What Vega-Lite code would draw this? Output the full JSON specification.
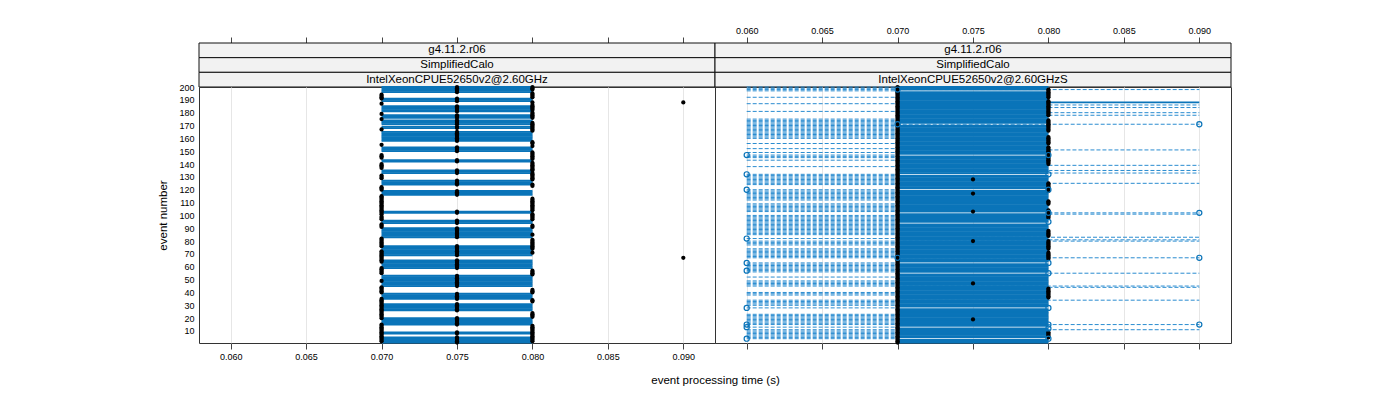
{
"$schema":"https://vega.github.io/schema/vega-lite/v6.json",
"padding":{"left":157,"top":26,"right":5,"bottom":5},
"background":"white",
"config":{"font":"Liberation Sans","view":{"stroke":null},
"axis":{"labelFont":"Liberation Sans","titleFont":"Liberation Sans","labelFontSize":9,"labelColor":"black","titleColor":"black","titleFontWeight":"normal","titleFontSize":11.5,"tickColor":"#444","domain":false,"gridColor":"#e6e6e6"}},
"columns":2,"spacing":0,"bounds":"flush",
"datasets":{
"strips":[
{"panel":"A","lvl":1,"label":"g4.11.2.r06"},{"panel":"A","lvl":2,"label":"SimplifiedCalo"},{"panel":"A","lvl":3,"label":"IntelXeonCPUE52650v2@2.60GHz"},
{"panel":"B","lvl":1,"label":"g4.11.2.r06"},{"panel":"B","lvl":2,"label":"SimplifiedCalo"},{"panel":"B","lvl":3,"label":"IntelXeonCPUE52650v2@2.60GHzS"}],
"ev":[
{"p":"A","e":1,"s0":0.07,"s1":0.08,"fa":0.075},
{"p":"A","e":2,"s0":0.07,"s1":0.08,"fa":0.075,"fb":0.07,"fc":0.08},
{"p":"A","e":3,"s0":0.07,"s1":0.08,"fa":0.075,"fb":0.07,"fc":0.08},
{"p":"A","e":4,"s0":0.07,"s1":0.08,"fa":0.075,"fb":0.07,"fc":0.08},
{"p":"A","e":5,"s0":0.07,"s1":0.08,"fa":0.075,"fb":0.07,"fc":0.08},
{"p":"A","e":6,"fb":0.07,"fc":0.08},
{"p":"A","e":7,"fb":0.07,"fc":0.08},
{"p":"A","e":8,"s0":0.07,"s1":0.08,"fa":0.075,"fb":0.07,"fc":0.08},
{"p":"A","e":9,"s0":0.07,"s1":0.08,"fa":0.075,"fb":0.07,"fc":0.08},
{"p":"A","e":10,"fb":0.07,"fc":0.08},
{"p":"A","e":11,"fb":0.07,"fc":0.08},
{"p":"A","e":12,"fb":0.07,"fc":0.08},
{"p":"A","e":13,"fb":0.07,"fc":0.08},
{"p":"A","e":14,"fb":0.07,"fc":0.08},
{"p":"A","e":15,"s0":0.07,"s1":0.08,"fa":0.075,"fb":0.07},
{"p":"A","e":16,"s0":0.07,"s1":0.08,"fa":0.075},
{"p":"A","e":17,"s0":0.07,"s1":0.08,"fa":0.075},
{"p":"A","e":18,"s0":0.07,"s1":0.08,"fa":0.075},
{"p":"A","e":19,"s0":0.07,"s1":0.08,"fa":0.075},
{"p":"A","e":20,"s0":0.07,"s1":0.08,"fa":0.075,"fb":0.07},
{"p":"A","e":21,"fb":0.07,"fc":0.08},
{"p":"A","e":22,"fb":0.07,"fc":0.08},
{"p":"A","e":23,"fb":0.07,"fc":0.08},
{"p":"A","e":24,"fb":0.07,"fc":0.08},
{"p":"A","e":25,"fb":0.07},
{"p":"A","e":26,"s0":0.07,"s1":0.08,"fa":0.075,"fb":0.07},
{"p":"A","e":27,"s0":0.07,"s1":0.08,"fa":0.075,"fb":0.07},
{"p":"A","e":28,"s0":0.07,"s1":0.08,"fa":0.075,"fb":0.07},
{"p":"A","e":29,"s0":0.07,"s1":0.08,"fa":0.075,"fb":0.07},
{"p":"A","e":30,"s0":0.07,"s1":0.08,"fa":0.075,"fb":0.07},
{"p":"A","e":31,"s0":0.07,"s1":0.08,"fa":0.075,"fb":0.07},
{"p":"A","e":32,"fb":0.07},
{"p":"A","e":33,"fb":0.07,"fc":0.08},
{"p":"A","e":34,"fb":0.07,"fc":0.08},
{"p":"A","e":35,"s0":0.07,"s1":0.08,"fa":0.075,"fb":0.07},
{"p":"A","e":36,"s0":0.07,"s1":0.08,"fa":0.075},
{"p":"A","e":37,"s0":0.07,"s1":0.08,"fa":0.075},
{"p":"A","e":38,"s0":0.07,"s1":0.08,"fa":0.075},
{"p":"A","e":39,"s0":0.07,"s1":0.08,"fa":0.075},
{"p":"A","e":40,"fb":0.07,"fc":0.08},
{"p":"A","e":41,"fb":0.07,"fc":0.08},
{"p":"A","e":42,"fb":0.07,"fc":0.08},
{"p":"A","e":43,"fb":0.07},
{"p":"A","e":44,"fb":0.07},
{"p":"A","e":45,"s0":0.07,"s1":0.08,"fa":0.075},
{"p":"A","e":46,"s0":0.07,"s1":0.08,"fa":0.075},
{"p":"A","e":47,"s0":0.07,"s1":0.08,"fa":0.075},
{"p":"A","e":48,"s0":0.07,"s1":0.08,"fa":0.075},
{"p":"A","e":49,"s0":0.07,"s1":0.08,"fa":0.075,"fb":0.07},
{"p":"A","e":50,"s0":0.07,"s1":0.08,"fa":0.075},
{"p":"A","e":51,"s0":0.07,"s1":0.08,"fa":0.075},
{"p":"A","e":52,"s0":0.07,"s1":0.08,"fa":0.075},
{"p":"A","e":53,"s0":0.07,"s1":0.08,"fa":0.075},
{"p":"A","e":54,"fc":0.08},
{"p":"A","e":55,"fb":0.07,"fc":0.08},
{"p":"A","e":56,"fb":0.07,"fc":0.08},
{"p":"A","e":57,"fb":0.07,"fc":0.08},
{"p":"A","e":58,"fb":0.07},
{"p":"A","e":59,"s0":0.07,"s1":0.08,"fa":0.075,"fb":0.07},
{"p":"A","e":60,"s0":0.07,"s1":0.08,"fa":0.075},
{"p":"A","e":61,"s0":0.07,"s1":0.08,"fa":0.075},
{"p":"A","e":62,"s0":0.07,"s1":0.08,"fa":0.075},
{"p":"A","e":63,"s0":0.07,"s1":0.08,"fa":0.075},
{"p":"A","e":64,"s0":0.07,"s1":0.08,"fa":0.075,"fb":0.07},
{"p":"A","e":65,"s0":0.07,"s1":0.08,"fa":0.075,"fb":0.07},
{"p":"A","e":66,"fb":0.07},
{"p":"A","e":67,"fb":0.07,"fd":0.09},
{"p":"A","e":68,"fb":0.07},
{"p":"A","e":69,"s0":0.07,"s1":0.08,"fa":0.075,"fb":0.07},
{"p":"A","e":70,"s0":0.07,"s1":0.08,"fa":0.075,"fb":0.07},
{"p":"A","e":71,"s0":0.07,"s1":0.08,"fa":0.075,"fb":0.07,"fc":0.08},
{"p":"A","e":72,"s0":0.07,"s1":0.08,"fa":0.075,"fb":0.07},
{"p":"A","e":73,"s0":0.07,"s1":0.08,"fa":0.075},
{"p":"A","e":74,"s0":0.07,"s1":0.08,"fa":0.075,"fc":0.08},
{"p":"A","e":75,"s0":0.07,"s1":0.08,"fa":0.075,"fc":0.08},
{"p":"A","e":76,"s0":0.07,"s1":0.08,"fa":0.075,"fb":0.07,"fc":0.08},
{"p":"A","e":77,"fb":0.07,"fc":0.08},
{"p":"A","e":78,"fb":0.07,"fc":0.08},
{"p":"A","e":79,"fb":0.07,"fc":0.08},
{"p":"A","e":80,"fb":0.07,"fc":0.08},
{"p":"A","e":81,"fb":0.07,"fc":0.08},
{"p":"A","e":82,"fb":0.07},
{"p":"A","e":83,"s0":0.07,"s1":0.08,"fa":0.075},
{"p":"A","e":84,"s0":0.07,"s1":0.08,"fa":0.075},
{"p":"A","e":85,"s0":0.07,"s1":0.08,"fa":0.075,"fc":0.08},
{"p":"A","e":86,"s0":0.07,"s1":0.08,"fa":0.075},
{"p":"A","e":87,"s0":0.07,"s1":0.08,"fa":0.075},
{"p":"A","e":88,"s0":0.07,"s1":0.08,"fa":0.075},
{"p":"A","e":89,"s0":0.07,"s1":0.08,"fa":0.075},
{"p":"A","e":90,"s0":0.07,"s1":0.08,"fa":0.075},
{"p":"A","e":91,"fb":0.07,"fc":0.08},
{"p":"A","e":92,"fb":0.07,"fc":0.08},
{"p":"A","e":93,"fb":0.07},
{"p":"A","e":94,"s0":0.07,"s1":0.08,"fa":0.075},
{"p":"A","e":95,"s0":0.07,"s1":0.08,"fa":0.075},
{"p":"A","e":96,"s0":0.07,"s1":0.08,"fa":0.075},
{"p":"A","e":97,"fb":0.07,"fc":0.08},
{"p":"A","e":98,"fb":0.07,"fc":0.08},
{"p":"A","e":99,"fb":0.07,"fc":0.08},
{"p":"A","e":100,"fc":0.08},
{"p":"A","e":101,"fb":0.07,"fc":0.08},
{"p":"A","e":102,"s0":0.07,"s1":0.08,"fa":0.075,"fb":0.07},
{"p":"A","e":103,"s0":0.07,"s1":0.08,"fa":0.075,"fb":0.07},
{"p":"A","e":104,"fb":0.07,"fc":0.08},
{"p":"A","e":105,"fb":0.07,"fc":0.08},
{"p":"A","e":106,"fb":0.07,"fc":0.08},
{"p":"A","e":107,"fb":0.07,"fc":0.08},
{"p":"A","e":108,"fb":0.07,"fc":0.08},
{"p":"A","e":109,"fb":0.07,"fc":0.08},
{"p":"A","e":110,"fb":0.07,"fc":0.08},
{"p":"A","e":111,"fb":0.07,"fc":0.08},
{"p":"A","e":112,"fb":0.07,"fc":0.08},
{"p":"A","e":113,"fb":0.07,"fc":0.08},
{"p":"A","e":114,"fb":0.07},
{"p":"A","e":115,"fb":0.07},
{"p":"A","e":116,"s0":0.07,"s1":0.08,"fa":0.075},
{"p":"A","e":117,"s0":0.07,"s1":0.08,"fa":0.075},
{"p":"A","e":118,"s0":0.07,"s1":0.08,"fa":0.075},
{"p":"A","e":119,"s0":0.07,"s1":0.08,"fa":0.075},
{"p":"A","e":120,"fb":0.07},
{"p":"A","e":121,"fb":0.07},
{"p":"A","e":122,"fb":0.07},
{"p":"A","e":123,"fc":0.08},
{"p":"A","e":124,"s0":0.07,"s1":0.08,"fa":0.075,"fc":0.08},
{"p":"A","e":125,"s0":0.07,"s1":0.08,"fa":0.075},
{"p":"A","e":126,"s0":0.07,"s1":0.08,"fa":0.075},
{"p":"A","e":127,"s0":0.07,"s1":0.08,"fa":0.075},
{"p":"A","e":128,"fc":0.08},
{"p":"A","e":129,"fb":0.07,"fc":0.08},
{"p":"A","e":130,"fb":0.07,"fc":0.08},
{"p":"A","e":131,"fb":0.07,"fc":0.08},
{"p":"A","e":132,"fc":0.08},
{"p":"A","e":133,"s0":0.07,"s1":0.08,"fa":0.075,"fc":0.08},
{"p":"A","e":134,"s0":0.07,"s1":0.08,"fa":0.075},
{"p":"A","e":135,"s0":0.07,"s1":0.08,"fa":0.075,"fc":0.08},
{"p":"A","e":136,"fc":0.08},
{"p":"A","e":137,"fb":0.07,"fc":0.08},
{"p":"A","e":138,"fb":0.07,"fc":0.08},
{"p":"A","e":139,"fb":0.07,"fc":0.08},
{"p":"A","e":140,"fb":0.07,"fc":0.08},
{"p":"A","e":141,"fc":0.08},
{"p":"A","e":142,"s0":0.07,"s1":0.08,"fa":0.075},
{"p":"A","e":143,"s0":0.07,"s1":0.08,"fa":0.075},
{"p":"A","e":144,"fc":0.08},
{"p":"A","e":145,"fb":0.07,"fc":0.08},
{"p":"A","e":146,"fb":0.07,"fc":0.08},
{"p":"A","e":147,"fb":0.07,"fc":0.08},
{"p":"A","e":148,"fc":0.08},
{"p":"A","e":149,"fc":0.08},
{"p":"A","e":150,"s0":0.07,"s1":0.08,"fa":0.075},
{"p":"A","e":151,"s0":0.07,"s1":0.08,"fa":0.075},
{"p":"A","e":152,"s0":0.07,"s1":0.08,"fa":0.075},
{"p":"A","e":153,"s0":0.07,"s1":0.08,"fa":0.075},
{"p":"A","e":154,"fc":0.08},
{"p":"A","e":155,"fb":0.07},
{"p":"A","e":156,"fc":0.08},
{"p":"A","e":157,"fc":0.08},
{"p":"A","e":158,"s0":0.07,"s1":0.08,"fa":0.075},
{"p":"A","e":159,"s0":0.07,"s1":0.08,"fa":0.075},
{"p":"A","e":160,"s0":0.07,"s1":0.08,"fa":0.075},
{"p":"A","e":161,"s0":0.07,"s1":0.08,"fa":0.075},
{"p":"A","e":162,"s0":0.07,"s1":0.08,"fa":0.075},
{"p":"A","e":163,"s0":0.07,"s1":0.08,"fa":0.075},
{"p":"A","e":164,"s0":0.07,"s1":0.08,"fa":0.075},
{"p":"A","e":165,"s0":0.07,"s1":0.08,"fa":0.075},
{"p":"A","e":166,"fc":0.08},
{"p":"A","e":167,"fb":0.07,"fc":0.08},
{"p":"A","e":168,"s0":0.07,"s1":0.08,"fa":0.075,"fc":0.08},
{"p":"A","e":169,"s0":0.07,"s1":0.08,"fa":0.075,"fc":0.08},
{"p":"A","e":170,"fc":0.08},
{"p":"A","e":171,"s0":0.07,"s1":0.08,"fa":0.075,"fc":0.08},
{"p":"A","e":172,"s0":0.07,"s1":0.08,"fa":0.075,"fc":0.08},
{"p":"A","e":173,"s0":0.07,"s1":0.08,"fa":0.075},
{"p":"A","e":174,"s0":0.07,"s1":0.08,"fa":0.075},
{"p":"A","e":175,"fb":0.07},
{"p":"A","e":176,"s0":0.07,"s1":0.08,"fa":0.075,"fc":0.08},
{"p":"A","e":177,"s0":0.07,"s1":0.08,"fa":0.075,"fc":0.08},
{"p":"A","e":178,"s0":0.07,"s1":0.08,"fa":0.075,"fc":0.08},
{"p":"A","e":179,"fb":0.07,"fc":0.08},
{"p":"A","e":180,"fc":0.08},
{"p":"A","e":181,"s0":0.07,"s1":0.08,"fa":0.075},
{"p":"A","e":182,"s0":0.07,"s1":0.08,"fa":0.075,"fc":0.08},
{"p":"A","e":183,"s0":0.07,"s1":0.08,"fa":0.075,"fc":0.08},
{"p":"A","e":184,"s0":0.07,"s1":0.08,"fa":0.075,"fc":0.08},
{"p":"A","e":185,"s0":0.07,"s1":0.08,"fa":0.075,"fc":0.08},
{"p":"A","e":186,"fc":0.08},
{"p":"A","e":187,"fb":0.07},
{"p":"A","e":188,"fc":0.08,"fd":0.09},
{"p":"A","e":189,"s0":0.07,"s1":0.08,"fa":0.075},
{"p":"A","e":190,"s0":0.07,"s1":0.08,"fa":0.075},
{"p":"A","e":191,"s0":0.07,"s1":0.08,"fa":0.075,"fb":0.07},
{"p":"A","e":192,"fb":0.07,"fc":0.08},
{"p":"A","e":193,"fb":0.07,"fc":0.08},
{"p":"A","e":194,"fb":0.07,"fc":0.08},
{"p":"A","e":195,"fc":0.08},
{"p":"A","e":196,"s0":0.07,"s1":0.08,"fa":0.075},
{"p":"A","e":197,"s0":0.07,"s1":0.08,"fa":0.075},
{"p":"A","e":198,"s0":0.07,"s1":0.08,"fa":0.075,"fc":0.08},
{"p":"A","e":199,"s0":0.07,"s1":0.08,"fa":0.075,"fc":0.08},
{"p":"A","e":200,"s0":0.07,"s1":0.08,"fa":0.075,"fc":0.08},
{"p":"B","e":1,"s0":0.07,"s1":0.08,"fa":0.07},
{"p":"B","e":2,"s0":0.07,"s1":0.08,"fa":0.07},
{"p":"B","e":3,"s0":0.07,"s1":0.08,"fa":0.07},
{"p":"B","e":4,"d0":0.06,"d1":0.07,"fa":0.07,"oa":0.06,"ob":0.08},
{"p":"B","e":5,"s0":0.07,"s1":0.08,"d0":0.06,"d1":0.07,"fa":0.07,"fc":0.08},
{"p":"B","e":6,"s0":0.07,"s1":0.08,"d0":0.06,"d1":0.07,"fa":0.07,"fc":0.08},
{"p":"B","e":7,"s0":0.07,"s1":0.08,"d0":0.06,"d1":0.07,"fa":0.07,"fc":0.08},
{"p":"B","e":8,"s0":0.07,"s1":0.08,"d0":0.06,"d1":0.07,"fa":0.07,"fc":0.08},
{"p":"B","e":9,"s0":0.07,"s1":0.08,"d0":0.06,"d1":0.07,"fa":0.07,"fc":0.08},
{"p":"B","e":10,"s0":0.07,"s1":0.08,"d0":0.06,"d1":0.07,"fa":0.07},
{"p":"B","e":11,"s0":0.07,"s1":0.08,"d0":0.06,"d1":0.09,"fa":0.07},
{"p":"B","e":12,"s0":0.07,"s1":0.08,"fa":0.07,"ob":0.08},
{"p":"B","e":13,"d0":0.06,"d1":0.07,"fa":0.07,"oa":0.06},
{"p":"B","e":14,"s0":0.07,"s1":0.08,"fa":0.07},
{"p":"B","e":15,"s0":0.07,"s1":0.08,"d0":0.06,"d1":0.09,"fa":0.07,"oa":0.06,"ob":0.08,"oc":0.09},
{"p":"B","e":16,"s0":0.07,"s1":0.08,"d0":0.06,"d1":0.07,"fa":0.07},
{"p":"B","e":17,"s0":0.07,"s1":0.08,"d0":0.06,"d1":0.07,"fa":0.07},
{"p":"B","e":18,"s0":0.07,"s1":0.08,"d0":0.06,"d1":0.07,"fa":0.07},
{"p":"B","e":19,"s0":0.07,"s1":0.08,"d0":0.06,"d1":0.07,"fa":0.07,"fb":0.075},
{"p":"B","e":20,"s0":0.07,"s1":0.08,"d0":0.06,"d1":0.07,"fa":0.07},
{"p":"B","e":21,"s0":0.07,"s1":0.08,"d0":0.06,"d1":0.07,"fa":0.07},
{"p":"B","e":22,"s0":0.07,"s1":0.08,"d0":0.06,"d1":0.07,"fa":0.07},
{"p":"B","e":23,"s0":0.07,"s1":0.08,"d0":0.06,"d1":0.07,"fa":0.07},
{"p":"B","e":24,"s0":0.07,"s1":0.08,"fa":0.07},
{"p":"B","e":25,"s0":0.07,"s1":0.08,"fa":0.07},
{"p":"B","e":26,"s0":0.07,"s1":0.08,"fa":0.07},
{"p":"B","e":27,"s0":0.07,"s1":0.08,"fa":0.07},
{"p":"B","e":28,"d0":0.06,"d1":0.07,"fa":0.07,"oa":0.06,"ob":0.08},
{"p":"B","e":29,"s0":0.07,"s1":0.08,"fa":0.07},
{"p":"B","e":30,"s0":0.07,"s1":0.08,"d0":0.06,"d1":0.07,"fa":0.07},
{"p":"B","e":31,"s0":0.07,"s1":0.08,"d0":0.06,"d1":0.07,"fa":0.07},
{"p":"B","e":32,"s0":0.07,"s1":0.08,"d0":0.06,"d1":0.07,"fa":0.07},
{"p":"B","e":33,"s0":0.07,"s1":0.08,"d0":0.06,"d1":0.07,"fa":0.07},
{"p":"B","e":34,"s0":0.07,"s1":0.08,"d0":0.06,"d1":0.09,"fa":0.07},
{"p":"B","e":35,"s0":0.07,"s1":0.08,"fa":0.07},
{"p":"B","e":36,"s0":0.07,"s1":0.08,"fa":0.07,"fc":0.08},
{"p":"B","e":37,"s0":0.07,"s1":0.08,"fa":0.07,"fc":0.08},
{"p":"B","e":38,"s0":0.07,"s1":0.08,"d0":0.06,"d1":0.07,"fa":0.07,"fc":0.08},
{"p":"B","e":39,"s0":0.07,"s1":0.08,"d0":0.06,"d1":0.07,"fa":0.07,"fc":0.08},
{"p":"B","e":40,"s0":0.07,"s1":0.08,"d0":0.06,"d1":0.07,"fa":0.07,"fc":0.08},
{"p":"B","e":41,"s0":0.07,"s1":0.08,"fa":0.07,"fc":0.08},
{"p":"B","e":42,"s0":0.07,"s1":0.08,"fa":0.07,"fc":0.08},
{"p":"B","e":43,"s0":0.07,"s1":0.08,"fa":0.07,"fc":0.08},
{"p":"B","e":44,"s0":0.07,"s1":0.08,"d0":0.08,"d1":0.09,"fa":0.07},
{"p":"B","e":45,"s0":0.07,"s1":0.08,"d0":0.06,"d1":0.09,"fa":0.07},
{"p":"B","e":46,"s0":0.07,"s1":0.08,"d0":0.06,"d1":0.07,"fa":0.07},
{"p":"B","e":47,"s0":0.07,"s1":0.08,"d0":0.06,"d1":0.07,"fa":0.07,"fb":0.075},
{"p":"B","e":48,"s0":0.07,"s1":0.08,"d0":0.06,"d1":0.07,"fa":0.07},
{"p":"B","e":49,"s0":0.07,"s1":0.08,"d0":0.06,"d1":0.07,"fa":0.07},
{"p":"B","e":50,"s0":0.07,"s1":0.08,"fa":0.07},
{"p":"B","e":51,"s0":0.07,"s1":0.08,"fa":0.07},
{"p":"B","e":52,"s0":0.07,"s1":0.08,"d0":0.06,"d1":0.07,"fa":0.07},
{"p":"B","e":53,"s0":0.07,"s1":0.08,"fa":0.07},
{"p":"B","e":54,"s0":0.07,"s1":0.08,"fa":0.07},
{"p":"B","e":55,"d0":0.08,"d1":0.09,"fa":0.07,"ob":0.08},
{"p":"B","e":56,"s0":0.07,"s1":0.08,"d0":0.06,"d1":0.07,"fa":0.07},
{"p":"B","e":57,"s0":0.07,"s1":0.08,"d0":0.06,"d1":0.07,"fa":0.07,"oa":0.06},
{"p":"B","e":58,"s0":0.07,"s1":0.08,"d0":0.06,"d1":0.07,"fa":0.07},
{"p":"B","e":59,"s0":0.07,"s1":0.08,"d0":0.06,"d1":0.07,"fa":0.07},
{"p":"B","e":60,"s0":0.07,"s1":0.08,"d0":0.06,"d1":0.07,"fa":0.07},
{"p":"B","e":61,"s0":0.07,"s1":0.08,"d0":0.06,"d1":0.07,"fa":0.07},
{"p":"B","e":62,"s0":0.07,"s1":0.08,"d0":0.06,"d1":0.07,"fa":0.07},
{"p":"B","e":63,"d0":0.06,"d1":0.07,"fa":0.07,"oa":0.06,"ob":0.08},
{"p":"B","e":64,"s0":0.07,"s1":0.08,"fa":0.07},
{"p":"B","e":65,"s0":0.07,"s1":0.08,"fa":0.07},
{"p":"B","e":66,"s0":0.07,"s1":0.08,"fa":0.07,"fc":0.08},
{"p":"B","e":67,"s0":0.07,"s1":0.08,"d0":0.06,"d1":0.09,"fa":0.07,"fc":0.08,"oa":0.07,"ob":0.09},
{"p":"B","e":68,"s0":0.07,"s1":0.08,"d0":0.06,"d1":0.07,"fa":0.07,"fc":0.08},
{"p":"B","e":69,"s0":0.07,"s1":0.08,"d0":0.06,"d1":0.07,"fa":0.07,"fc":0.08},
{"p":"B","e":70,"s0":0.07,"s1":0.08,"d0":0.06,"d1":0.07,"fa":0.07,"fc":0.08},
{"p":"B","e":71,"s0":0.07,"s1":0.08,"d0":0.06,"d1":0.07,"fa":0.07,"fc":0.08},
{"p":"B","e":72,"s0":0.07,"s1":0.08,"d0":0.06,"d1":0.07,"fa":0.07},
{"p":"B","e":73,"s0":0.07,"s1":0.08,"d0":0.06,"d1":0.07,"fa":0.07},
{"p":"B","e":74,"s0":0.07,"s1":0.08,"d0":0.06,"d1":0.07,"fa":0.07,"fc":0.08},
{"p":"B","e":75,"s0":0.07,"s1":0.08,"fa":0.07,"fc":0.08},
{"p":"B","e":76,"s0":0.07,"s1":0.08,"fa":0.07,"fc":0.08},
{"p":"B","e":77,"s0":0.07,"s1":0.08,"d0":0.06,"d1":0.07,"fa":0.07,"fc":0.08},
{"p":"B","e":78,"s0":0.07,"s1":0.08,"d0":0.06,"d1":0.07,"fa":0.07,"fc":0.08},
{"p":"B","e":79,"s0":0.07,"s1":0.08,"d0":0.06,"d1":0.07,"fa":0.07,"fc":0.08},
{"p":"B","e":80,"s0":0.07,"s1":0.08,"d0":0.06,"d1":0.09,"fa":0.07,"fb":0.075,"fc":0.08},
{"p":"B","e":81,"s0":0.07,"s1":0.08,"d0":0.08,"d1":0.09,"fa":0.07},
{"p":"B","e":82,"s0":0.07,"s1":0.08,"d0":0.06,"d1":0.07,"fa":0.07,"oa":0.06},
{"p":"B","e":83,"s0":0.07,"s1":0.08,"d0":0.075,"d1":0.09,"fa":0.07},
{"p":"B","e":84,"s0":0.07,"s1":0.08,"fa":0.07,"fc":0.08},
{"p":"B","e":85,"s0":0.07,"s1":0.08,"d0":0.06,"d1":0.07,"fa":0.07,"fc":0.08},
{"p":"B","e":86,"s0":0.07,"s1":0.08,"d0":0.06,"d1":0.07,"fa":0.07,"fc":0.08},
{"p":"B","e":87,"s0":0.07,"s1":0.08,"d0":0.06,"d1":0.07,"fa":0.07,"fc":0.08},
{"p":"B","e":88,"s0":0.07,"s1":0.08,"d0":0.06,"d1":0.07,"fa":0.07,"fc":0.08},
{"p":"B","e":89,"s0":0.07,"s1":0.08,"d0":0.06,"d1":0.07,"fa":0.07},
{"p":"B","e":90,"s0":0.07,"s1":0.08,"d0":0.06,"d1":0.07,"fa":0.07},
{"p":"B","e":91,"s0":0.07,"s1":0.08,"d0":0.06,"d1":0.07,"fa":0.07},
{"p":"B","e":92,"s0":0.07,"s1":0.08,"d0":0.06,"d1":0.07,"fa":0.07},
{"p":"B","e":93,"s0":0.07,"s1":0.08,"d0":0.06,"d1":0.07,"fa":0.07},
{"p":"B","e":94,"d0":0.06,"d1":0.07,"fa":0.07},
{"p":"B","e":95,"s0":0.07,"s1":0.08,"d0":0.06,"d1":0.07,"fa":0.07,"ob":0.08},
{"p":"B","e":96,"s0":0.07,"s1":0.08,"d0":0.06,"d1":0.07,"fa":0.07},
{"p":"B","e":97,"s0":0.07,"s1":0.08,"d0":0.06,"d1":0.07,"fa":0.07},
{"p":"B","e":98,"s0":0.07,"s1":0.08,"d0":0.06,"d1":0.07,"fa":0.07,"fc":0.08},
{"p":"B","e":99,"s0":0.07,"s1":0.08,"d0":0.06,"d1":0.07,"fa":0.07,"fc":0.08},
{"p":"B","e":100,"s0":0.07,"s1":0.08,"d0":0.06,"d1":0.07,"fa":0.07,"fc":0.08},
{"p":"B","e":101,"s0":0.07,"s1":0.08,"d0":0.08,"d1":0.09,"fa":0.07,"fc":0.08},
{"p":"B","e":102,"d0":0.08,"d1":0.09,"fa":0.07,"fc":0.08,"ob":0.08,"oc":0.09},
{"p":"B","e":103,"s0":0.07,"s1":0.08,"d0":0.06,"d1":0.07,"fa":0.07,"fb":0.075,"fc":0.08},
{"p":"B","e":104,"s0":0.07,"s1":0.08,"d0":0.06,"d1":0.07,"fa":0.07,"fc":0.08},
{"p":"B","e":105,"s0":0.07,"s1":0.08,"d0":0.06,"d1":0.07,"fa":0.07},
{"p":"B","e":106,"s0":0.07,"s1":0.08,"d0":0.06,"d1":0.07,"fa":0.07},
{"p":"B","e":107,"s0":0.07,"s1":0.08,"d0":0.06,"d1":0.07,"fa":0.07},
{"p":"B","e":108,"s0":0.07,"s1":0.08,"d0":0.06,"d1":0.07,"fa":0.07},
{"p":"B","e":109,"s0":0.07,"s1":0.08,"d0":0.06,"d1":0.07,"fa":0.07,"fc":0.08},
{"p":"B","e":110,"s0":0.07,"s1":0.08,"fa":0.07,"fc":0.08},
{"p":"B","e":111,"s0":0.07,"s1":0.08,"fa":0.07,"fc":0.08},
{"p":"B","e":112,"s0":0.07,"s1":0.08,"d0":0.06,"d1":0.07,"fa":0.07},
{"p":"B","e":113,"s0":0.07,"s1":0.08,"d0":0.06,"d1":0.07,"fa":0.07},
{"p":"B","e":114,"s0":0.07,"s1":0.08,"d0":0.06,"d1":0.07,"fa":0.07},
{"p":"B","e":115,"s0":0.07,"s1":0.08,"d0":0.06,"d1":0.07,"fa":0.07},
{"p":"B","e":116,"s0":0.07,"s1":0.08,"d0":0.06,"d1":0.07,"fa":0.07},
{"p":"B","e":117,"s0":0.07,"s1":0.08,"d0":0.06,"d1":0.07,"fa":0.07,"fb":0.075},
{"p":"B","e":118,"s0":0.07,"s1":0.08,"d0":0.06,"d1":0.07,"fa":0.07},
{"p":"B","e":119,"s0":0.07,"s1":0.08,"d0":0.06,"d1":0.07,"fa":0.07,"fc":0.08},
{"p":"B","e":120,"d0":0.06,"d1":0.07,"fa":0.07,"fc":0.08,"oa":0.06,"ob":0.08},
{"p":"B","e":121,"s0":0.07,"s1":0.08,"fa":0.07,"fc":0.08},
{"p":"B","e":122,"s0":0.07,"s1":0.08,"fa":0.07,"fc":0.08},
{"p":"B","e":123,"s0":0.07,"s1":0.08,"fa":0.07,"fc":0.08},
{"p":"B","e":124,"s0":0.07,"s1":0.08,"d0":0.06,"d1":0.07,"fa":0.07,"fc":0.08},
{"p":"B","e":125,"s0":0.07,"s1":0.08,"d0":0.06,"d1":0.09,"fa":0.07,"fc":0.08},
{"p":"B","e":126,"s0":0.07,"s1":0.08,"d0":0.06,"d1":0.07,"fa":0.07},
{"p":"B","e":127,"s0":0.07,"s1":0.08,"d0":0.06,"d1":0.07,"fa":0.07},
{"p":"B","e":128,"s0":0.07,"s1":0.08,"d0":0.06,"d1":0.07,"fa":0.07,"fb":0.075},
{"p":"B","e":129,"s0":0.07,"s1":0.08,"d0":0.06,"d1":0.07,"fa":0.07},
{"p":"B","e":130,"s0":0.07,"s1":0.08,"d0":0.06,"d1":0.07,"fa":0.07},
{"p":"B","e":131,"s0":0.07,"s1":0.08,"d0":0.06,"d1":0.07,"fa":0.07},
{"p":"B","e":132,"d0":0.06,"d1":0.07,"fa":0.07,"oa":0.06,"ob":0.08},
{"p":"B","e":133,"s0":0.07,"s1":0.08,"d0":0.08,"d1":0.09,"fa":0.07},
{"p":"B","e":134,"s0":0.07,"s1":0.08,"fa":0.07},
{"p":"B","e":135,"s0":0.07,"s1":0.08,"d0":0.08,"d1":0.09,"fa":0.07},
{"p":"B","e":136,"s0":0.07,"s1":0.08,"fa":0.07},
{"p":"B","e":137,"s0":0.07,"s1":0.08,"fa":0.07},
{"p":"B","e":138,"s0":0.07,"s1":0.08,"d0":0.06,"d1":0.07,"fa":0.07},
{"p":"B","e":139,"s0":0.07,"s1":0.08,"d0":0.08,"d1":0.09,"fa":0.07},
{"p":"B","e":140,"s0":0.07,"s1":0.08,"fa":0.07,"fc":0.08},
{"p":"B","e":141,"s0":0.07,"s1":0.08,"fa":0.07,"fc":0.08},
{"p":"B","e":142,"s0":0.07,"s1":0.08,"fa":0.07,"fc":0.08},
{"p":"B","e":143,"s0":0.07,"s1":0.08,"d0":0.06,"d1":0.07,"fa":0.07,"fc":0.08},
{"p":"B","e":144,"s0":0.07,"s1":0.08,"fa":0.07,"fc":0.08},
{"p":"B","e":145,"s0":0.07,"s1":0.08,"d0":0.06,"d1":0.07,"fa":0.07,"fc":0.08},
{"p":"B","e":146,"s0":0.07,"s1":0.08,"d0":0.06,"d1":0.07,"fa":0.07,"fc":0.08},
{"p":"B","e":147,"d0":0.06,"d1":0.07,"fa":0.07,"fc":0.08,"oa":0.06,"ob":0.08},
{"p":"B","e":148,"s0":0.07,"s1":0.08,"fa":0.07,"fc":0.08},
{"p":"B","e":149,"s0":0.07,"s1":0.08,"d0":0.06,"d1":0.07,"fa":0.07,"fc":0.08},
{"p":"B","e":150,"s0":0.07,"s1":0.08,"fa":0.07,"fc":0.08},
{"p":"B","e":151,"s0":0.07,"s1":0.08,"d0":0.08,"d1":0.09,"fa":0.07,"fc":0.08},
{"p":"B","e":152,"s0":0.07,"s1":0.08,"d0":0.06,"d1":0.07,"fa":0.07,"fc":0.08},
{"p":"B","e":153,"s0":0.07,"s1":0.08,"fa":0.07,"fc":0.08},
{"p":"B","e":154,"s0":0.07,"s1":0.08,"fa":0.07},
{"p":"B","e":155,"s0":0.07,"s1":0.08,"fa":0.07},
{"p":"B","e":156,"s0":0.07,"s1":0.08,"d0":0.06,"d1":0.07,"fa":0.07,"fc":0.08},
{"p":"B","e":157,"s0":0.07,"s1":0.08,"fa":0.07,"fc":0.08},
{"p":"B","e":158,"s0":0.07,"s1":0.08,"fa":0.07,"fc":0.08},
{"p":"B","e":159,"s0":0.07,"s1":0.08,"fa":0.07,"fc":0.08},
{"p":"B","e":160,"s0":0.07,"s1":0.08,"d0":0.06,"d1":0.07,"fa":0.07,"fc":0.08},
{"p":"B","e":161,"s0":0.07,"s1":0.08,"d0":0.06,"d1":0.07,"fa":0.07,"fc":0.08},
{"p":"B","e":162,"s0":0.07,"s1":0.08,"d0":0.06,"d1":0.07,"fa":0.07},
{"p":"B","e":163,"s0":0.07,"s1":0.08,"d0":0.06,"d1":0.07,"fa":0.07},
{"p":"B","e":164,"s0":0.07,"s1":0.08,"d0":0.06,"d1":0.07,"fa":0.07},
{"p":"B","e":165,"s0":0.07,"s1":0.08,"d0":0.06,"d1":0.07,"fa":0.07},
{"p":"B","e":166,"s0":0.07,"s1":0.08,"d0":0.06,"d1":0.07,"fa":0.07,"fc":0.08},
{"p":"B","e":167,"s0":0.07,"s1":0.08,"d0":0.06,"d1":0.07,"fa":0.07,"fc":0.08},
{"p":"B","e":168,"s0":0.07,"s1":0.08,"d0":0.06,"d1":0.07,"fa":0.07,"fc":0.08},
{"p":"B","e":169,"s0":0.07,"s1":0.08,"d0":0.06,"d1":0.07,"fa":0.07,"fc":0.08},
{"p":"B","e":170,"s0":0.07,"s1":0.08,"d0":0.06,"d1":0.07,"fa":0.07,"fc":0.08},
{"p":"B","e":171,"d0":0.06,"d1":0.09,"fa":0.07,"fc":0.08,"oa":0.07,"ob":0.09},
{"p":"B","e":172,"s0":0.07,"s1":0.08,"d0":0.06,"d1":0.07,"fa":0.07,"fc":0.08},
{"p":"B","e":173,"s0":0.07,"s1":0.08,"d0":0.06,"d1":0.07,"fa":0.07,"fc":0.08},
{"p":"B","e":174,"s0":0.07,"s1":0.08,"d0":0.06,"d1":0.07,"fa":0.07,"fc":0.08},
{"p":"B","e":175,"s0":0.07,"s1":0.08,"d0":0.06,"d1":0.07,"fa":0.07},
{"p":"B","e":176,"s0":0.07,"s1":0.08,"fa":0.07},
{"p":"B","e":177,"s0":0.07,"s1":0.08,"fa":0.07},
{"p":"B","e":178,"s0":0.07,"s1":0.08,"d0":0.08,"d1":0.09,"fa":0.07,"fc":0.08},
{"p":"B","e":179,"s0":0.07,"s1":0.08,"fa":0.07,"fc":0.08},
{"p":"B","e":180,"s0":0.07,"s1":0.08,"d0":0.08,"d1":0.09,"fa":0.07,"fc":0.08},
{"p":"B","e":181,"s0":0.07,"s1":0.08,"d0":0.06,"d1":0.07,"fa":0.07,"fc":0.08},
{"p":"B","e":182,"s0":0.07,"s1":0.08,"fa":0.07,"fc":0.08},
{"p":"B","e":183,"s0":0.07,"s1":0.08,"fa":0.07,"fc":0.08},
{"p":"B","e":184,"s0":0.07,"s1":0.08,"d0":0.08,"d1":0.09,"fa":0.07,"fc":0.08},
{"p":"B","e":185,"s0":0.07,"s1":0.08,"fa":0.07,"fc":0.08},
{"p":"B","e":186,"s0":0.07,"s1":0.08,"d0":0.08,"d1":0.09,"fa":0.07,"fc":0.08},
{"p":"B","e":187,"s0":0.07,"s1":0.08,"d0":0.06,"d1":0.07,"fa":0.07,"fc":0.08},
{"p":"B","e":188,"s0":0.07,"s1":0.09,"fa":0.07,"fc":0.08},
{"p":"B","e":189,"s0":0.07,"s1":0.08,"fa":0.07,"fc":0.08},
{"p":"B","e":190,"s0":0.07,"s1":0.08,"fa":0.07},
{"p":"B","e":191,"s0":0.07,"s1":0.08,"fa":0.07},
{"p":"B","e":192,"s0":0.07,"s1":0.08,"d0":0.06,"d1":0.07,"fa":0.07,"fc":0.08},
{"p":"B","e":193,"s0":0.07,"s1":0.08,"fa":0.07,"fc":0.08},
{"p":"B","e":194,"s0":0.07,"s1":0.08,"fa":0.07,"fc":0.08},
{"p":"B","e":195,"s0":0.07,"s1":0.08,"fa":0.07,"fc":0.08},
{"p":"B","e":196,"s0":0.07,"s1":0.08,"fa":0.07,"fc":0.08},
{"p":"B","e":197,"d0":0.06,"d1":0.07,"fa":0.07,"fc":0.08},
{"p":"B","e":198,"s0":0.07,"s1":0.08,"d0":0.06,"d1":0.09,"fa":0.07,"fc":0.08,"oa":0.07},
{"p":"B","e":199,"s0":0.07,"s1":0.08,"d0":0.06,"d1":0.07,"fa":0.07},
{"p":"B","e":200,"s0":0.07,"s1":0.08,"d0":0.06,"d1":0.07,"fa":0.07}
]},
"concat":[
{"width":516,"height":44,"data":{"name":"strips"},"transform":[{"filter":"datum.panel=='A'"}],
 "encoding":{"y":{"field":"lvl","type":"ordinal","axis":null,"scale":{"paddingInner":0,"paddingOuter":0}}},
 "layer":[
  {"mark":{"type":"rect","fill":"#f2f2f2","stroke":"#111","strokeWidth":1},
   "encoding":{"x":{"datum":0.0579,"type":"quantitative","scale":{"domain":[0.0579,0.0921],"nice":false,"zero":false},
     "axis":{"orient":"top","values":[0.06,0.065,0.07,0.075,0.08,0.085,0.09],"labels":false,"tickSize":6,"grid":false,"title":null}},
    "x2":{"datum":0.0921}}},
  {"mark":{"type":"text","fontSize":11.5,"color":"black","font":"Liberation Sans"},"encoding":{"x":{"datum":0.075,"type":"quantitative"},"text":{"field":"label"}}}
 ]},
{"width":516,"height":44,"data":{"name":"strips"},"transform":[{"filter":"datum.panel=='B'"}],
 "encoding":{"y":{"field":"lvl","type":"ordinal","axis":null,"scale":{"paddingInner":0,"paddingOuter":0}}},
 "layer":[
  {"mark":{"type":"rect","fill":"#f2f2f2","stroke":"#111","strokeWidth":1},
   "encoding":{"x":{"datum":0.0579,"type":"quantitative","scale":{"domain":[0.0579,0.0921],"nice":false,"zero":false},
     "axis":{"orient":"top","values":[0.06,0.065,0.07,0.075,0.08,0.085,0.09],"format":".3f","labelPadding":2,"tickSize":6,"grid":false,"title":null}},
    "x2":{"datum":0.0921}}},
  {"mark":{"type":"text","fontSize":11.5,"color":"black","font":"Liberation Sans"},"encoding":{"x":{"datum":0.075,"type":"quantitative"},"text":{"field":"label"}}}
 ]},
{"width":516,"height":256,"view":{"stroke":"#333","strokeWidth":1},"data":{"name":"ev"},"transform":[{"filter":"datum.p=='A'"}],
 "encoding":{"y":{"field":"e","type":"quantitative","scale":{"domain":[0.65,200],"nice":false,"zero":false},
   "axis":{"values":[10,20,30,40,50,60,70,80,90,100,110,120,130,140,150,160,170,180,190,200],"title":"event number","ticks":false,"labelPadding":5,"grid":false,"titlePadding":10}}},
 "layer":[
  {"transform":[{"filter":"isValid(datum.s0)"}],"mark":{"type":"rule","color":"#0a74b9","strokeWidth":1.8},
   "encoding":{"x":{"field":"s0","type":"quantitative","scale":{"domain":[0.0579,0.0921],"nice":false,"zero":false},
     "axis":{"values":[0.06,0.065,0.07,0.075,0.08,0.085,0.09],"format":".3f","tickSize":6,"labelPadding":3,"grid":true,"title":"event processing time (s)","titleX":516,"titlePadding":13}},
    "x2":{"field":"s1"}}},
  {"transform":[{"fold":["fa","fb","fc","fd"],"as":["k","t"]},{"filter":"isValid(datum.t)"}],
   "mark":{"type":"circle","color":"black","size":18,"opacity":1},
   "encoding":{"x":{"field":"t","type":"quantitative","scale":{"domain":[0.0579,0.0921],"nice":false,"zero":false}}}}
 ]},
{"width":516,"height":256,"view":{"stroke":"#333","strokeWidth":1},"data":{"name":"ev"},"transform":[{"filter":"datum.p=='B'"}],
 "encoding":{"y":{"field":"e","type":"quantitative","scale":{"domain":[0.65,200],"nice":false,"zero":false},"axis":null}},
 "layer":[
  {"transform":[{"filter":"isValid(datum.d0)"}],"mark":{"type":"rule","color":"#2a8cd0","strokeWidth":1,"strokeDash":[4,2]},
   "encoding":{"x":{"field":"d0","type":"quantitative","scale":{"domain":[0.0579,0.0921],"nice":false,"zero":false},
     "axis":{"values":[0.06,0.065,0.07,0.075,0.08,0.085,0.09],"labels":false,"tickSize":6,"grid":true,"title":null}},
    "x2":{"field":"d1"}}},
  {"transform":[{"filter":"isValid(datum.s0)"}],"mark":{"type":"rule","color":"#0a74b9","strokeWidth":1.8},
   "encoding":{"x":{"field":"s0","type":"quantitative","scale":{"domain":[0.0579,0.0921],"nice":false,"zero":false}},"x2":{"field":"s1"}}},
  {"transform":[{"fold":["fa","fb","fc"],"as":["k","t"]},{"filter":"isValid(datum.t)"}],
   "mark":{"type":"circle","color":"black","size":18,"opacity":1},
   "encoding":{"x":{"field":"t","type":"quantitative","scale":{"domain":[0.0579,0.0921],"nice":false,"zero":false}}}},
  {"transform":[{"fold":["oa","ob","oc"],"as":["k","t"]},{"filter":"isValid(datum.t)"}],
   "mark":{"type":"point","shape":"circle","filled":false,"color":"#0a74b9","size":26,"strokeWidth":1.2,"opacity":1},
   "encoding":{"x":{"field":"t","type":"quantitative","scale":{"domain":[0.0579,0.0921],"nice":false,"zero":false}}}}
 ]}
]
}
